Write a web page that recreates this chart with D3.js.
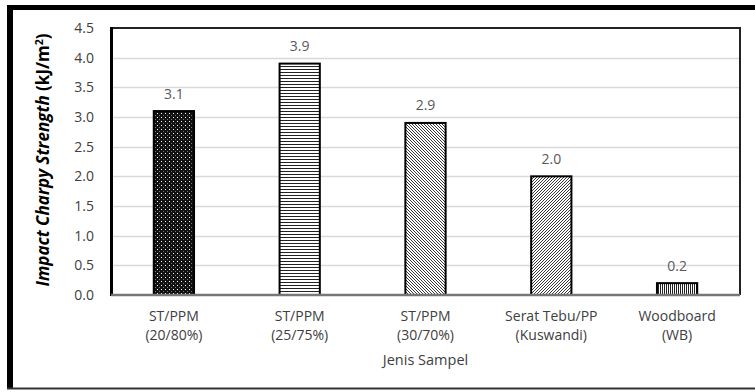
<!DOCTYPE html>
<html><head><meta charset="utf-8">
<script src="https://cdn.jsdelivr.net/npm/d3@7/dist/d3.min.js"></script>
<style>
html,body{margin:0;padding:0;background:#fff;}
svg{display:block;}
text{font-family:"Open Sans","Noto Sans",sans-serif;}
</style></head>
<body>
<svg id="chart" width="755" height="392"></svg>
<script>
const categories = [["ST/PPM","(20/80%)"],["ST/PPM","(25/75%)"],["ST/PPM","(30/70%)"],["Serat Tebu/PP","(Kuswandi)"],["Woodboard","(WB)"]];
const values = [3.1, 3.9, 2.9, 2.0, 0.2];
const valueLabels = ["3.1","3.9","2.9","2.0","0.2"];
const yTicks = [0,0.5,1.0,1.5,2.0,2.5,3.0,3.5,4.0,4.5];
const patterns = ["dots","hlines","dlines","ulines","vlines"];

const svg = d3.select("#chart");
const defs = svg.append("defs");
const p1 = defs.append("pattern").attr("id","dots").attr("patternUnits","userSpaceOnUse").attr("width",4).attr("height",4);
p1.append("rect").attr("width",4).attr("height",4).attr("fill","#111");
p1.append("rect").attr("x",1).attr("y",1).attr("width",1).attr("height",1).attr("fill","#fff");
p1.append("rect").attr("x",3).attr("y",3).attr("width",1).attr("height",1).attr("fill","#777");
const p2 = defs.append("pattern").attr("id","hlines").attr("patternUnits","userSpaceOnUse").attr("width",4).attr("height",3);
p2.append("rect").attr("width",4).attr("height",3).attr("fill","#fff");
p2.append("rect").attr("y",0).attr("width",4).attr("height",1).attr("fill","#222");
const p3 = defs.append("pattern").attr("id","dlines").attr("patternUnits","userSpaceOnUse").attr("width",3).attr("height",3);
p3.append("rect").attr("width",3).attr("height",3).attr("fill","#fff");
p3.append("path").attr("d","M-1,-1 L4,4 M-1,2 L1,4 M2,-1 L4,1").attr("stroke","#222").attr("stroke-width",0.9);
const p4 = defs.append("pattern").attr("id","ulines").attr("patternUnits","userSpaceOnUse").attr("width",3).attr("height",3);
p4.append("rect").attr("width",3).attr("height",3).attr("fill","#fff");
p4.append("path").attr("d","M-1,4 L4,-1 M-1,1 L1,-1 M2,4 L4,2").attr("stroke","#222").attr("stroke-width",0.9);
const p5 = defs.append("pattern").attr("id","vlines").attr("patternUnits","userSpaceOnUse").attr("width",2).attr("height",4);
p5.append("rect").attr("width",2).attr("height",4).attr("fill","#fff");
p5.append("rect").attr("width",1).attr("height",4).attr("fill","#222");

// outer frame
svg.append("line").attr("x1",10).attr("x2",755).attr("y1",7.5).attr("y2",7.5).attr("stroke","#000").attr("stroke-width",5);
svg.append("line").attr("x1",10).attr("x2",10).attr("y1",5).attr("y2",389).attr("stroke","#000").attr("stroke-width",6);
svg.append("line").attr("x1",7).attr("x2",755).attr("y1",388.5).attr("y2",388.5).attr("stroke","#333").attr("stroke-width",2);

const m = {left:111, right:740, top:28, bottom:295};
const x = d3.scaleBand().domain(d3.range(values.length)).range([m.left,m.right]).paddingInner(0.68).paddingOuter(0.34);
const y = d3.scaleLinear().domain([0,4.5]).range([m.bottom,m.top]);

svg.append("g").selectAll("line").data(yTicks.slice(1,-1)).join("line")
  .attr("x1",m.left).attr("x2",m.right).attr("y1",d=>Math.round(y(d))+0.5).attr("y2",d=>Math.round(y(d))+0.5)
  .attr("stroke","#d9d9d9").attr("stroke-width",1.5);

const yAxis = d3.axisLeft(y).tickValues(yTicks).tickFormat(d3.format(".1f")).tickSize(0).tickPadding(17);
const ga = svg.append("g").attr("transform",`translate(${m.left},0)`).call(yAxis);
ga.select(".domain").remove();
ga.selectAll("text").attr("font-size",14).attr("fill","#404040").style("font-family","'Open Sans','Noto Sans',sans-serif");

svg.append("line").attr("x1",m.left).attr("x2",m.right).attr("y1",m.top).attr("y2",m.top).attr("stroke","#222").attr("stroke-width",2);
svg.append("line").attr("x1",m.right).attr("x2",m.right).attr("y1",m.top-1).attr("y2",m.bottom).attr("stroke","#222").attr("stroke-width",2);
svg.append("line").attr("x1",m.left+0.5).attr("x2",m.left+0.5).attr("y1",m.top-1).attr("y2",m.bottom+1).attr("stroke","#000").attr("stroke-width",3);

svg.append("g").selectAll("rect").data(values).join("rect")
  .attr("x",(d,i)=>x(i)).attr("width",x.bandwidth())
  .attr("y",d=>y(d)).attr("height",d=>y(0)-y(d))
  .attr("fill",(d,i)=>`url(#${patterns[i]})`).attr("stroke","#000").attr("stroke-width",2);

svg.append("line").attr("x1",m.left).attr("x2",m.right).attr("y1",m.bottom).attr("y2",m.bottom).attr("stroke","#777").attr("stroke-width",2.5);

svg.append("g").selectAll("text").data(values).join("text")
  .attr("x",(d,i)=>x(i)+x.bandwidth()/2).attr("y",d=>y(d)-12.5)
  .attr("text-anchor","middle").attr("font-size",14).attr("fill","#595959")
  .text((d,i)=>valueLabels[i]);

// category labels: two separate lines
[0,1].forEach(j=>{
  svg.append("g").selectAll("text").data(categories).join("text")
    .attr("x",(d,i)=>x(i)+x.bandwidth()/2).attr("y",321 + j*19)
    .attr("text-anchor","middle").attr("font-size",14).attr("fill","#404040")
    .text(d=>d[j]);
});

svg.append("text").attr("x",(m.left+m.right)/2).attr("y",365).attr("text-anchor","middle")
  .attr("font-size",14.5).attr("fill","#404040").text("Jenis Sampel");
const yt = svg.append("text").attr("transform",`translate(49,160) rotate(-90)`)
  .attr("text-anchor","middle").attr("font-size",17).attr("font-weight","bold").attr("fill","#000");
yt.append("tspan").attr("font-style","italic").text("Impact Charpy Strength");
yt.append("tspan").text(" (kJ/m");
yt.append("tspan").attr("font-size",10.5).attr("dy",-6).text("2");
yt.append("tspan").attr("dy",6).text(")");
</script>
</body></html>
